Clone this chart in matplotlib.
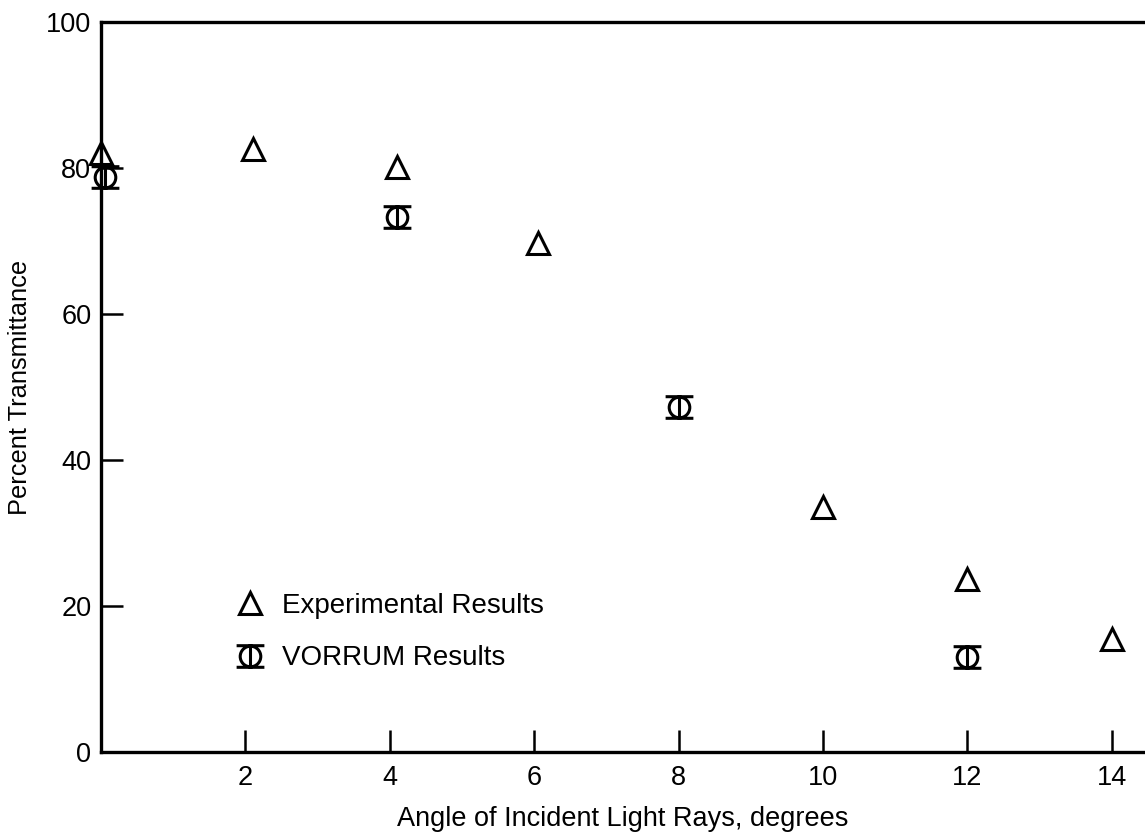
import matplotlib
matplotlib.use("Agg")
import matplotlib.pyplot as plt
from matplotlib.path import Path
import numpy as np

plt.rcParams['font.family'] = ['Liberation Sans', 'DejaVu Sans']

# measured transmittance vs. angle of incidence
exp_angle = [0.0, 2.1, 4.1, 6.05, 10.0, 12.0, 14.0]
exp_trans = [82.1, 82.6, 80.1, 69.7, 33.6, 23.7, 15.5]

# VORRUM computed transmittance
vor_angle = [0.05, 4.1, 8.0, 12.0]
vor_trans = [78.8, 73.3, 47.3, 13.0]

xticks = [2, 4, 6, 8, 10, 12, 14]
yticks = [0, 20, 40, 60, 80, 100]

# circle with a bar through it and caps top and bottom
circ = Path.unit_circle()
verts = list(circ.vertices) + [(0, -1), (0, 1),
                               (-1.35, 1.05), (1.35, 1.05),
                               (-1.35, -1.05), (1.35, -1.05)]
codes = list(circ.codes) + [Path.MOVETO, Path.LINETO] * 3
vorrum_marker = Path(np.array(verts), codes)

fig = plt.figure(figsize=(11.45, 8.33), dpi=100)
ax = fig.add_axes([0.0882, 0.0972, 0.9118, 0.8764])

ax.plot(exp_angle, exp_trans, linestyle='none', marker='^', markersize=16.5,
        mfc='none', mec='black', mew=2.2, label='Experimental Results',
        clip_on=False)
ax.plot(vor_angle, vor_trans, linestyle='none', marker=vorrum_marker,
        markersize=20, mfc='none', mec='black', mew=2.2,
        label='VORRUM Results', clip_on=False)

ax.set_xlim(0, 14.46)
ax.set_ylim(0, 100)
ax.set_xticks(xticks)
ax.set_yticks(yticks)

for side in ['left', 'bottom', 'top']:
    ax.spines[side].set_linewidth(2.4)
ax.spines['right'].set_visible(False)

ax.tick_params(direction='in', length=16, width=1.8, labelsize=19.5, pad=7)
ax.tick_params(axis='x', pad=9)

ax.set_xlabel('Angle of Incident Light Rays, degrees', fontsize=19.5, labelpad=11)
ax.set_ylabel('Percent Transmittance', fontsize=18.3, labelpad=10)

leg = ax.legend(loc='upper left', bbox_to_anchor=(0.107, 0.252),
                frameon=False, fontsize=20, handlelength=0.9,
                handletextpad=0.7, labelspacing=0.95)

fig.savefig('out.png', dpi=100)
